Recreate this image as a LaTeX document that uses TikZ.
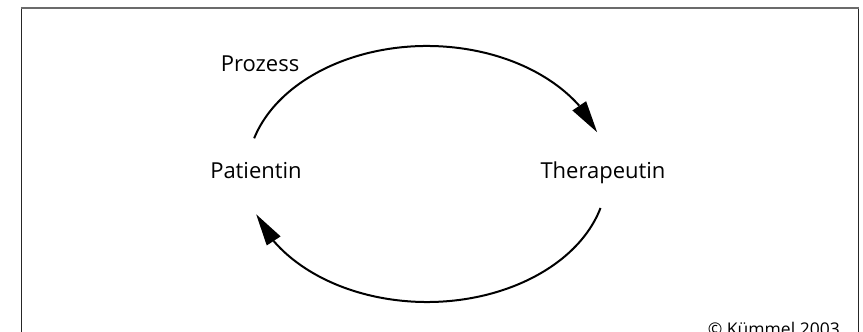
\documentclass[tikz,border=0pt]{standalone}
\usepackage{fontspec}
\setmainfont{Open Sans}
\usetikzlibrary{arrows.meta,bending,calc}
\begin{document}
\begin{tikzpicture}[x=1pt,y=1pt,
  labeltext/.style={font=\fontsize{22}{26}\selectfont, inner sep=0pt, anchor=base},
  smalltext/.style={font=\fontsize{17.5}{21}\selectfont, inner sep=0pt, anchor=base east},
  cyclearc/.style={line width=2pt, -{Triangle[length=32pt,width=16pt]}},
  frametop/.style={draw=black!58, line width=2pt},
  frameside/.style={draw=black!85, line width=1.1pt}]
\useasboundingbox (0,0) rectangle (863,332);

% frame (runs past the lower edge of the page)
\draw[frameside] (21.5,325) -- (21.5,-10);
\draw[frameside] (858.8,325) -- (858.8,-10);
\draw[frametop] (20.9,324) -- (859.4,324);

% labels
\node[labeltext] (pat)  at (256,153) {Patientin};
\node[labeltext] (ther) at (603,153) {Therapeutin};
\node[labeltext] (proz) at (260,260) {Prozess};
\node[smalltext] (copy) at (840,-3.5) {© Kümmel 2003};

% the cycle: two arcs of one ellipse around both labels
\coordinate (c) at (427,158);
\coordinate (upstart) at ($(c)+(163.8:180 and 128)$);
\coordinate (lowstart) at ($(c)+(-15.4:180 and 128)$);
\draw[cyclearc] (upstart) arc[start angle=163.8, end angle=19, x radius=180, y radius=128];
\draw[cyclearc] (lowstart) arc[start angle=-15.4, end angle=-161.7, x radius=180, y radius=128];
\end{tikzpicture}
\end{document}
